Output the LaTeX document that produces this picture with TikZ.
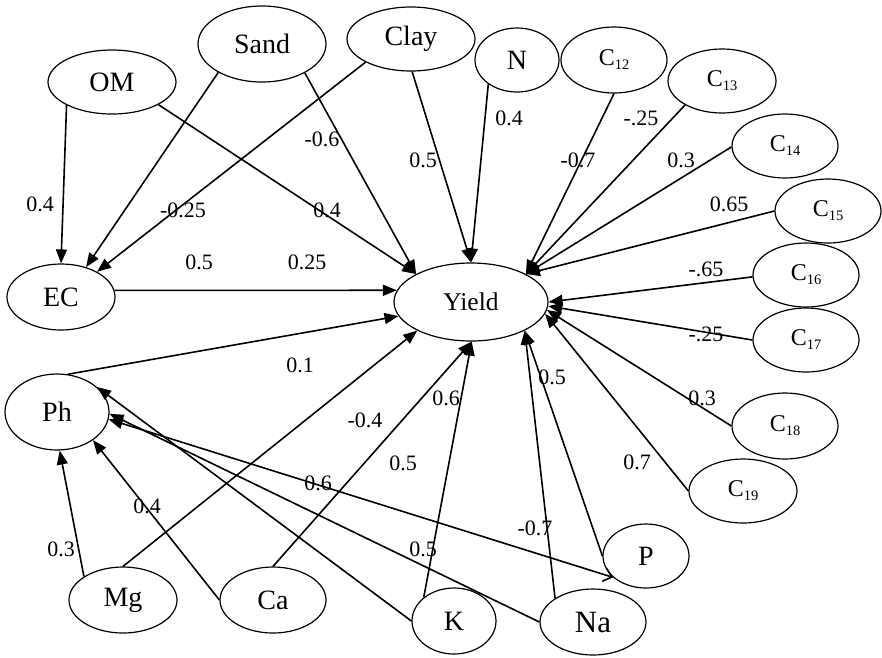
\documentclass[tikz,border=0pt]{standalone}
\usepackage{fontspec}
\setmainfont{Liberation Serif}
\usetikzlibrary{shapes.geometric,arrows.meta}
\newcommand{\csub}[1]{{\fontsize{24}{24}\selectfont C}\raisebox{-4pt}{\fontsize{14.5}{14.5}\selectfont #1}}
\begin{document}
\begin{tikzpicture}[x=1pt,y=-1pt,
  var/.style={draw, ellipse, line width=1.2pt, inner sep=0pt, font=\fontsize{28}{28}\selectfont},
  arr/.style={line width=1.6pt, -{Triangle[length=14pt,width=11pt]}},
  lab/.style={font=\fontsize{22}{22}\selectfont, inner sep=0pt}]
\useasboundingbox (0,0) rectangle (882,657);
% nodes
\node[var, minimum width=128pt, minimum height=64pt] (OM) at (112,82) {OM};
\node[var, minimum width=128pt, minimum height=76pt] (Sand) at (262,44) {Sand};
\node[var, minimum width=128pt, minimum height=64pt] (Clay) at (411,39) {Clay};
\node[var, minimum width=84pt, minimum height=64pt] (N) at (517,60) {N};
\node[var, minimum width=106pt, minimum height=66pt] (C12) at (614,60) {\csub{12}};
\node[var, minimum width=108pt, minimum height=64pt] (C13) at (722,81) {\csub{13}};
\node[var, minimum width=106pt, minimum height=64pt] (C14) at (785,146) {\csub{14}};
\node[var, minimum width=106pt, minimum height=64pt] (C15) at (828,211) {\csub{15}};
\node[var, minimum width=106pt, minimum height=64pt] (C16) at (806,275) {\csub{16}};
\node[var, minimum width=106pt, minimum height=64pt] (C17) at (806,340) {\csub{17}};
\node[var, minimum width=106pt, minimum height=66pt] (C18) at (785,426) {\csub{18}};
\node[var, minimum width=108pt, minimum height=64pt] (C19) at (743,491) {\csub{19}};
\node[var, minimum width=86pt, minimum height=64pt] (P) at (646,556) {P};
\node[var, minimum width=106pt, minimum height=66pt, font=\fontsize{31}{31}\selectfont] (Na) at (593,622) {Na};
\node[var, minimum width=84pt, minimum height=66pt] (K) at (454,621) {K};
\node[var, minimum width=106pt, minimum height=66pt] (Ca) at (273,600) {Ca};
\node[var, minimum width=108pt, minimum height=66pt] (Mg) at (123,600) {Mg};
\node[var, minimum width=104pt, minimum height=76pt] (Ph) at (57,412) {Ph};
\node[var, minimum width=108pt, minimum height=66pt] (EC) at (61,297) {EC};
\node[var, minimum width=154pt, minimum height=78pt, font=\fontsize{25.5}{25.5}\selectfont] (Yield) at (471,302) {Yield};
% connectors
\draw[arr] (OM.207) -- (EC.90);
\draw[arr] (OM.334) -- (Yield.153);
\draw[arr] (Sand.213) -- (EC.50);
\draw[arr] (Clay.207) -- (EC.35);
\draw[arr] (Sand.326) -- (Yield.153);
\draw[arr] (Clay.272) -- (Yield.90);
\draw[arr] (N.220) -- (Yield.90);
\draw[arr] (C12.270) -- (Yield.27);
\draw[arr] (C13.213) -- (Yield.27);
\draw[arr] (C14.181) -- (Yield.27);
\draw[arr] (C15.180) -- (Yield.27);
\draw[arr] (C16.182) -- (Yield.0);
\draw[arr] (C17.180) -- (Yield.357);
\draw[arr] (C18.180) -- (Yield.354);
\draw[arr] (C19.180) -- (Yield.351);
\draw[arr] (Na.148) -- (Yield.332);
\draw[arr] (P.180) -- (Yield.332);
\draw[arr] (K.142) -- (Yield.271);
\draw[arr] (Ca.90) -- (Yield.271);
\draw[arr] (Mg.90) -- (Yield.208);
\draw[arr] (EC.7) -- (Yield.171);
\draw[arr] (Ph.74) -- (Yield.191);
\draw[arr] (Mg.149) -- (Ph.274);
\draw[arr] (Ca.180) -- (Ph.322);
\draw[arr] (K.180) -- (Ph.32);
\draw[arr] (Na.180) -- (Ph.358);
\draw[line width=1.6pt, {Triangle[length=14pt,width=11pt]}-{Straight Barb[length=8pt,width=14pt,line width=1.6pt]}] (Ph.352) -- (P.213);
% labels
\node[lab] (l1) at (40,204) {0.4};
\node[lab] (l2) at (183,210) {-0.25};
\node[lab] (l3) at (327,210) {0.4};
\node[lab] (l4) at (322,139) {-0.6};
\node[lab] (l5) at (423,160) {0.5};
\node[lab] (l6) at (199,262) {0.5};
\node[lab] (l7) at (307,262) {0.25};
\node[lab] (l8) at (509,118) {0.4};
\node[lab] (l9) at (578,160) {-0.7};
\node[lab] (l10) at (641,118) {-.25};
\node[lab] (l11) at (681,160) {0.3};
\node[lab] (l12) at (729,204) {0.65};
\node[lab] (l13) at (706,269) {-.65};
\node[lab] (l14) at (706,334) {-.25};
\node[lab] (l15) at (702,398) {0.3};
\node[lab] (l16) at (637,462) {0.7};
\node[lab] (l17) at (535,528) {-0.7};
\node[lab] (l18) at (552,377) {0.5};
\node[lab] (l19) at (446,398) {0.6};
\node[lab] (l20) at (300,365) {0.1};
\node[lab] (l21) at (365,420) {-0.4};
\node[lab] (l22) at (403,463) {0.5};
\node[lab] (l23) at (318,483) {0.6};
\node[lab] (l24) at (147,506) {0.4};
\node[lab] (l25) at (61,549) {0.3};
\node[lab] (l26) at (423,549) {0.5};
\end{tikzpicture}
\end{document}
